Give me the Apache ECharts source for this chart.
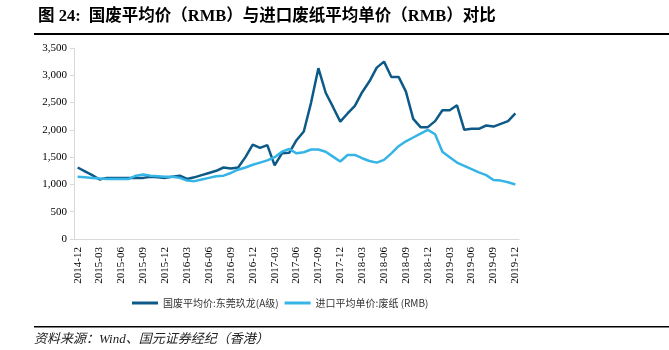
<!DOCTYPE html>
<html>
<head>
<meta charset="utf-8">
<script src="https://cdn.jsdelivr.net/npm/echarts@6/dist/echarts.min.js"></script>
<style>
html,body{margin:0;padding:0;background:#fff;}
#main{width:669px;height:350px;}
</style>
</head>
<body>
<div id="main"></div>
<script>
// months 2014-12 .. 2019-12
var months = [];
for (var y = 2014; y <= 2019; y++) {
    for (var m = 1; m <= 12; m++) {
        if (y == 2014 && m < 12) continue;
        months.push(y + '-' + (m < 10 ? '0' + m : m));
    }
}

var domesticName = '国废平均价:东莞玖龙(A级)';
var importName = '进口平均单价:废纸 (RMB)';

// 国废平均价
var domestic = [
    1310, 1240, 1170, 1090, 1120, 1120, 1120, 1120, 1120, 1120, 1140, 1130,
    1120, 1140, 1160, 1100, 1130, 1170, 1210, 1250, 1310, 1290, 1310, 1500,
    1730, 1670, 1720, 1350, 1570, 1580, 1810, 1970, 2500, 3130, 2680, 2420,
    2150, 2300, 2440, 2690, 2890, 3140, 3250, 2970, 2970, 2700, 2200, 2050,
    2050, 2160, 2360, 2360, 2450, 2000, 2020, 2020, 2080, 2060, 2110, 2160,
    2300
];

// 进口平均单价
var imported = [
    1140, 1130, 1120, 1110, 1100, 1100, 1100, 1100, 1160, 1180, 1160, 1150,
    1140, 1140, 1120, 1070, 1060, 1090, 1120, 1150, 1160, 1210, 1270, 1310,
    1360, 1400, 1440, 1500, 1600, 1650, 1570, 1590, 1640, 1640, 1600, 1510,
    1420, 1540, 1540, 1480, 1430, 1400, 1450, 1570, 1700, 1790, 1860, 1930,
    2000, 1920, 1600, 1500, 1400, 1340, 1280, 1220, 1170, 1080, 1070, 1040,
    1000
];

var serif = '"Liberation Serif", "Times New Roman", "Noto Sans CJK SC", serif';
var cjk = '"Noto Sans CJK SC", sans-serif';

var myChart = echarts.init(document.getElementById('main'));

var option = {
    animation: false,
    backgroundColor: '#fff',
    title: {
        text: '图 24:  国废平均价（RMB）与进口废纸平均单价（RMB）对比',
        left: 33,
        top: 3,
        textStyle: {
            fontFamily: '"Liberation Serif", "Noto Sans CJK SC", serif',
            fontWeight: 'bold',
            fontSize: 16.5,
            color: '#000'
        }
    },
    graphic: [
        { type: 'rect', shape: { x: 34, y: 33, width: 635, height: 2 }, style: { fill: '#000' } },
        { type: 'rect', shape: { x: 34, y: 326, width: 635, height: 1.5 }, style: { fill: '#000' } },
        {
            type: 'text', left: 34, top: 333,
            style: {
                text: '资料来源：Wind、国元证券经纪（香港）',
                font: 'italic 13px "Liberation Serif", "Noto Sans CJK SC", serif',
                fill: '#222'
            }
        }
    ],
    color: ['#0d5a88', '#36b4e6'],
    legend: {
        left: 127,
        top: 293,
        itemWidth: 26,
        itemHeight: 3,
        itemGap: 6,
        icon: 'rect',
        textStyle: { fontFamily: cjk, fontSize: 10, color: '#333' },
        data: [domesticName, importName]
    },
    grid: {
        left: 74,
        right: 150,
        top: 48,
        bottom: 111
    },
    xAxis: {
        type: 'category',
        data: months,
        boundaryGap: true,
        axisLine: { lineStyle: { color: '#d9d9d9', width: 1 } },
        axisTick: { interval: 2, length: 4, lineStyle: { color: '#d9d9d9' } },
        axisLabel: {
            interval: 2,
            rotate: 90,
            fontFamily: serif,
            fontSize: 11,
            color: '#000',
            margin: 8
        }
    },
    yAxis: {
        type: 'value',
        min: 0,
        max: 3500,
        interval: 500,
        axisLine: { show: true, lineStyle: { color: '#d9d9d9' } },
        axisTick: { show: true, length: 4, lineStyle: { color: '#d9d9d9' } },
        splitLine: { show: false },
        axisLabel: {
            fontFamily: serif,
            fontSize: 11,
            color: '#000',
            margin: 7,
            formatter: function (v) {
                return v.toString().replace(/\B(?=(\d{3})+(?!\d))/g, ',');
            }
        }
    },
    series: [
        {
            name: domesticName,
            type: 'line',
            data: domestic,
            showSymbol: false,
            lineStyle: { width: 2.5 }
        },
        {
            name: importName,
            type: 'line',
            data: imported,
            showSymbol: false,
            lineStyle: { width: 2.5 }
        }
    ]
};

myChart.setOption(option);
</script>
</body>
</html>
